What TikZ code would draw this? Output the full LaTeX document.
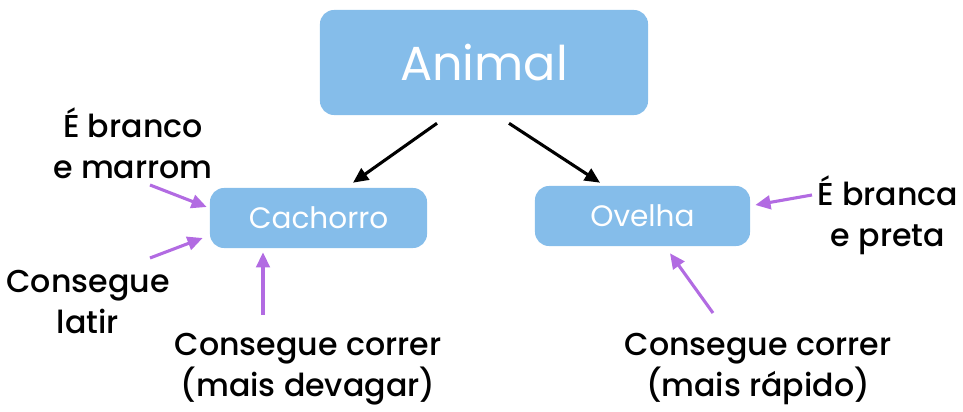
\documentclass[tikz,border=0pt]{standalone}
\usepackage{fontspec}
\setmainfont{Poppins}[UprightFont=* Medium]
\newfontfamily\boxfont{Poppins}
\usetikzlibrary{arrows.meta}

\definecolor{boxblue}{HTML}{85BDEA}
\definecolor{notepurple}{HTML}{B26BE2}

\begin{document}
\begin{tikzpicture}[x=0.025cm, y=-0.025cm, >={Triangle[length=0.38cm, width=0.34cm]}]
	\tikzstyle{class} = [fill=boxblue, rounded corners=0.35cm, text=white,
	inner sep=0pt]
	\tikzstyle{note} = [align=center, inner sep=0pt,
	font=\fontsize{22.5}{29}\selectfont]
	\useasboundingbox (0,0) rectangle (963,412);

	% classes
	\path
		node[class, minimum width=8.2cm, minimum height=2.625cm,
			font=\boxfont\fontsize{34}{34}\selectfont] (animal) at (484,62.5) {Animal}
		node[class, minimum width=5.425cm, minimum height=1.5cm,
			font=\boxfont\fontsize{21}{21}\selectfont] (cachorro) at (318.5,218) {Cachorro}
		node[class, minimum width=5.375cm, minimum height=1.5cm,
			font=\boxfont\fontsize{21}{21}\selectfont] (ovelha) at (642.5,216) {Ovelha}
		;

	% traits
	\path
		node[note] (cor1) at (133,143) {É branco\\e marrom}
		node[note] (latir) at (88,302) {Consegue\\latir}
		node[note] (lento) at (308,369) {Consegue correr\\(mais devagar)}
		node[note] (cor2) at (888,215) {É branca\\e preta}
		node[note] (rapido) at (758,369) {Consegue correr\\(mais rápido)}
		;
	\coordinate (cor1e) at (150,185);
	\coordinate (latire) at (150,258);
	\coordinate (lentoe) at (263,315);
	\coordinate (cor2e) at (812,195);
	\coordinate (rapidoe) at (713,313);

	\path[->, line width=2.2pt]
		([shift={(-47,8)}]animal.south) edge[black] ([shift={(34.5,-5)}]cachorro.north)
		([shift={(25,8)}]animal.south) edge[black] ([shift={(-42.5,-3)}]ovelha.north)
		(cor1e) edge[notepurple] ([shift={(-3,-11)}]cachorro.west)
		(latire) edge[notepurple] ([shift={(-7,20)}]cachorro.west)
		(lentoe) edge[notepurple] ([shift={(-55.5,4)}]cachorro.south)
		(cor2e) edge[notepurple] ([shift={(5,-11)}]ovelha.east)
		(rapidoe) edge[notepurple] ([shift={(27.5,7)}]ovelha.south)
		;
\end{tikzpicture}
\end{document}
